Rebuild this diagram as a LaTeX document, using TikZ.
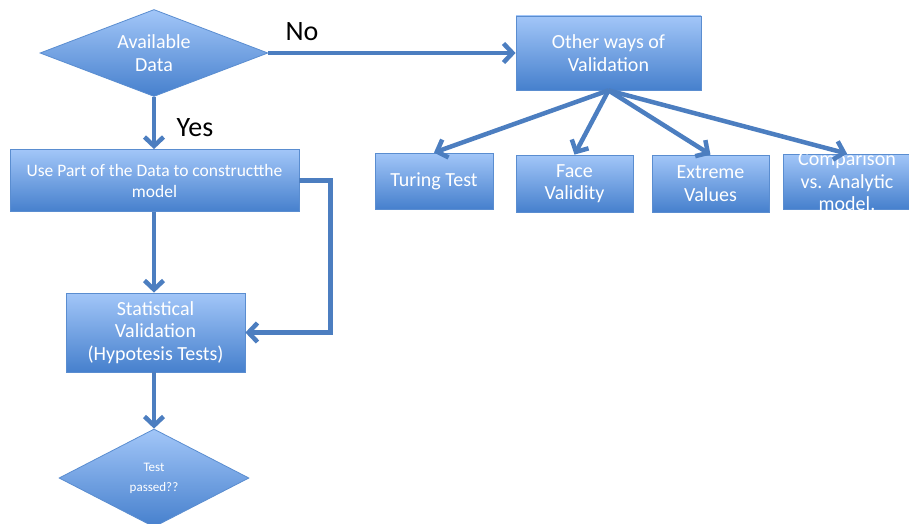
\documentclass[tikz,border=0pt]{standalone}
\usepackage{fontspec}
\setmainfont{Carlito}
\usetikzlibrary{shapes.geometric,arrows.meta}
\definecolor{ppt-hell}{HTML}{A2C6F8}
\definecolor{ppt-dunkel}{HTML}{4680CD}
\definecolor{ppt-rand}{HTML}{5A8DD0}
\definecolor{ppt-linie}{HTML}{4C7EC0}

\tikzset{
  kasten/.style={rectangle, draw=ppt-rand, line width=0.8pt,
    top color=ppt-hell, bottom color=ppt-dunkel, inner sep=0pt},
  raute/.style={diamond, draw=ppt-rand, line width=0.8pt,
    top color=ppt-hell, bottom color=ppt-dunkel, inner sep=0pt, aspect=2.4},
  schrift/.style={text=white, align=center, font=\fontsize{20}{22.5}\selectfont},
  pfeil/.style={draw=ppt-linie, line width=4.5pt,
    -{Straight Barb[length=9pt,width=19pt]}},
  antwort/.style={font=\fontsize{28}{30}\selectfont}
}

\begin{document}
\begin{tikzpicture}[x=1pt,y=-1pt]
\useasboundingbox (0,0) rectangle (909,524);

% linke Spalte
\node[raute, schrift, minimum width=228pt, minimum height=87pt] (daten) at (154,53) {Available\\Data};
\node[kasten, schrift, font=\fontsize{17.5}{21}\selectfont, minimum width=289pt, minimum height=62pt] (teil) at (154.5,180.5) {Use Part of the Data to constructthe\\model};
\node[kasten, schrift, minimum width=179pt, minimum height=79pt] (statistik) at (155.5,332.5) {Statistical\\Validation\\(Hypotesis Tests)};
\node[raute, schrift, font=\fontsize{13}{20}\selectfont, minimum width=190pt, minimum height=98pt] (test) at (154,478) {Test\\passed??};

% rechte Seite
\node[kasten, schrift, minimum width=185pt, minimum height=74pt] (andere) at (608.5,53) {Other ways of\\Validation};

\foreach \name/\xpos/\ypos/\breite/\hoehe/\txt in {
    turing/434/181/118/56/{Turing Test},
    gesicht/574.5/183.5/117/57/{Face\\Validity},
    extrem/710.5/183.5/117/57/{Extreme\\Values},
    vergleich/847/181.5/128/55/{Comparison\\vs. Analytic\\model.}} {
  \node[kasten, minimum width=\breite pt, minimum height=\hoehe pt] (\name) at (\xpos,\ypos) {};
  \node[schrift] (\name-text) at (\name) {\txt};
  \draw[pfeil] (andere.south) -- (\name.north);
}

% Verbindungen
\draw[pfeil] (daten.east) -- (andere.west);
\draw[pfeil] (daten.south) -- (daten.south |- teil.north);
\draw[pfeil] (daten.south |- teil.south) -- (daten.south |- statistik.north);
\draw[pfeil] (teil.east) -- ++(31,0) |- (statistik.east);
\draw[pfeil] (test.north |- statistik.south) -- (test.north);

\node[antwort] (nein) at (302,32) {No};
\node[antwort] (ja) at (195,128) {Yes};
\end{tikzpicture}
\end{document}
